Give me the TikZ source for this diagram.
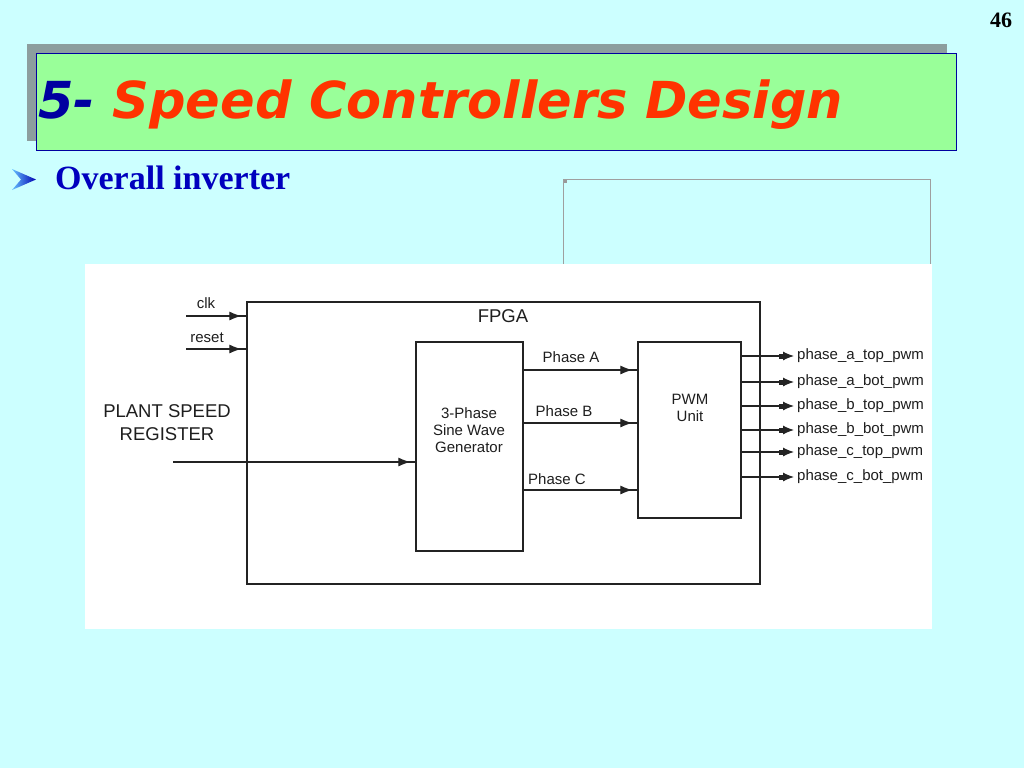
\documentclass[tikz,border=0pt]{standalone}
\usepackage{fontspec}
\setmainfont{Liberation Serif}
\setsansfont{Liberation Sans}
\newfontfamily\titlefont{DejaVu Sans}
\usetikzlibrary{arrows.meta}
\definecolor{slidebg}{RGB}{204,255,255}
\definecolor{titlegreen}{RGB}{153,255,153}
\definecolor{shadowgray}{RGB}{140,158,158}
\definecolor{navyblue}{RGB}{0,0,160}
\definecolor{titleorange}{RGB}{255,51,0}
\definecolor{bulletblue}{RGB}{0,0,190}
\definecolor{linegray}{RGB}{35,35,35}
\definecolor{txtgray}{RGB}{30,30,30}
\tikzset{
  box/.style={draw=linegray, line width=1.3pt, fill=white, inner sep=0pt, rectangle},
  sig/.style={draw=linegray, line width=1.1pt, -{Latex[length=12pt,width=9pt]Rectangle[length=5pt,width=1.1pt]}},
  outsig/.style={draw=linegray, line width=1.1pt, -{Rectangle[length=4pt,width=5pt]Latex[length=11pt,width=9pt]}},
  lbl/.style={font=\sffamily\fontsize{15}{17}\selectfont, text=txtgray, inner sep=0pt},
  biglbl/.style={font=\sffamily\fontsize{18.5}{23}\selectfont, text=txtgray, inner sep=0pt},
}
\begin{document}
\begin{tikzpicture}[x=1pt,y=-1pt]
\useasboundingbox (0,0) rectangle (1024,768);
\fill[slidebg] (0,0) rectangle (1024,768);
% page number
\node[font=\bfseries\fontsize{22}{24}\selectfont, inner sep=0pt] (pnum) at (1001,20) {46};
% title box
\fill[shadowgray] (27,44) rectangle (947,141);
\draw[navyblue, line width=0.8pt, fill=titlegreen] (36,53) rectangle (956,150);
\node[anchor=base west, inner sep=0pt, font=\titlefont\bfseries\itshape\fontsize{51}{56}\selectfont] (title) at (38,118)
  {\textcolor{navyblue}{5-} \textcolor{titleorange}{Speed Controllers Design}};
% bullet
\shade[left color=cyan!60!blue!60, right color=blue!70!black] (12,169) -- (36,179.5) -- (12,190) -- (21,179.5) -- cycle;
\node[anchor=base west, inner sep=0pt, text=bulletblue, font=\bfseries\fontsize{34}{36}\selectfont] (sub) at (55,189) {Overall inverter};
% placeholder frame
\draw[gray!75, line width=0.8pt] (563,179) rectangle (930,270);
\fill[gray!80] (564,180) rectangle (567,183);
% white picture area
\fill[white] (85,264) rectangle (932,629);
% FPGA and inner blocks
\node[box, minimum width=513pt, minimum height=282pt] (fpga) at (503.5,443) {};
\node[box, minimum width=107pt, minimum height=209pt] (gen) at (469.5,446.5) {};
\node[box, minimum width=103pt, minimum height=176pt] (pwm) at (689.5,430) {};
\node[biglbl] (fpgalbl) at (503,316) {FPGA};
\node[lbl, align=center] (gentxt) at (469,430) {3-Phase\\Sine Wave\\Generator};
\node[lbl, align=center] (pwmtxt) at (690,408) {PWM\\Unit};
% inputs
\coordinate (clkin) at (186,316);
\coordinate (rstin) at (186,349);
\coordinate (spdin) at (173,462);
\node[lbl] (clklbl) at (206,303) {clk};
\node[lbl] (rstlbl) at (207,338) {reset};
\node[biglbl, align=center] (plant) at (167,422.5) {PLANT SPEED\\REGISTER};
\draw[sig] (clkin) -- (clkin -| fpga.west);
\draw[sig] (rstin) -- (rstin -| fpga.west);
\draw[sig] (spdin) -- (spdin -| gen.west);
% phases
\coordinate (pa) at (580,370);
\coordinate (pb) at (580,423);
\coordinate (pc) at (580,490);
\draw[sig] (gen.east |- pa) -- (pwm.west |- pa);
\draw[sig] (gen.east |- pb) -- (pwm.west |- pb);
\draw[sig] (gen.east |- pc) -- (pwm.west |- pc);
\node[lbl] (palbl) at (571,357) {Phase A};
\node[lbl] (pblbl) at (564,411) {Phase B};
\node[lbl] (pclbl) at (557,479) {Phase C};
% outputs
\foreach \y/\t/\n in {356/phase\_a\_top\_pwm/o1, 382/phase\_a\_bot\_pwm/o2, 406/phase\_b\_top\_pwm/o3, 430/phase\_b\_bot\_pwm/o4, 452/phase\_c\_top\_pwm/o5, 477/phase\_c\_bot\_pwm/o6}{
  \coordinate (\n) at (794,\y);
  \draw[outsig] (pwm.east |- \n) -- (\n);
  \node[lbl, anchor=west] (\n lbl) at (797,\y) {\t};
}
\end{tikzpicture}
\end{document}
